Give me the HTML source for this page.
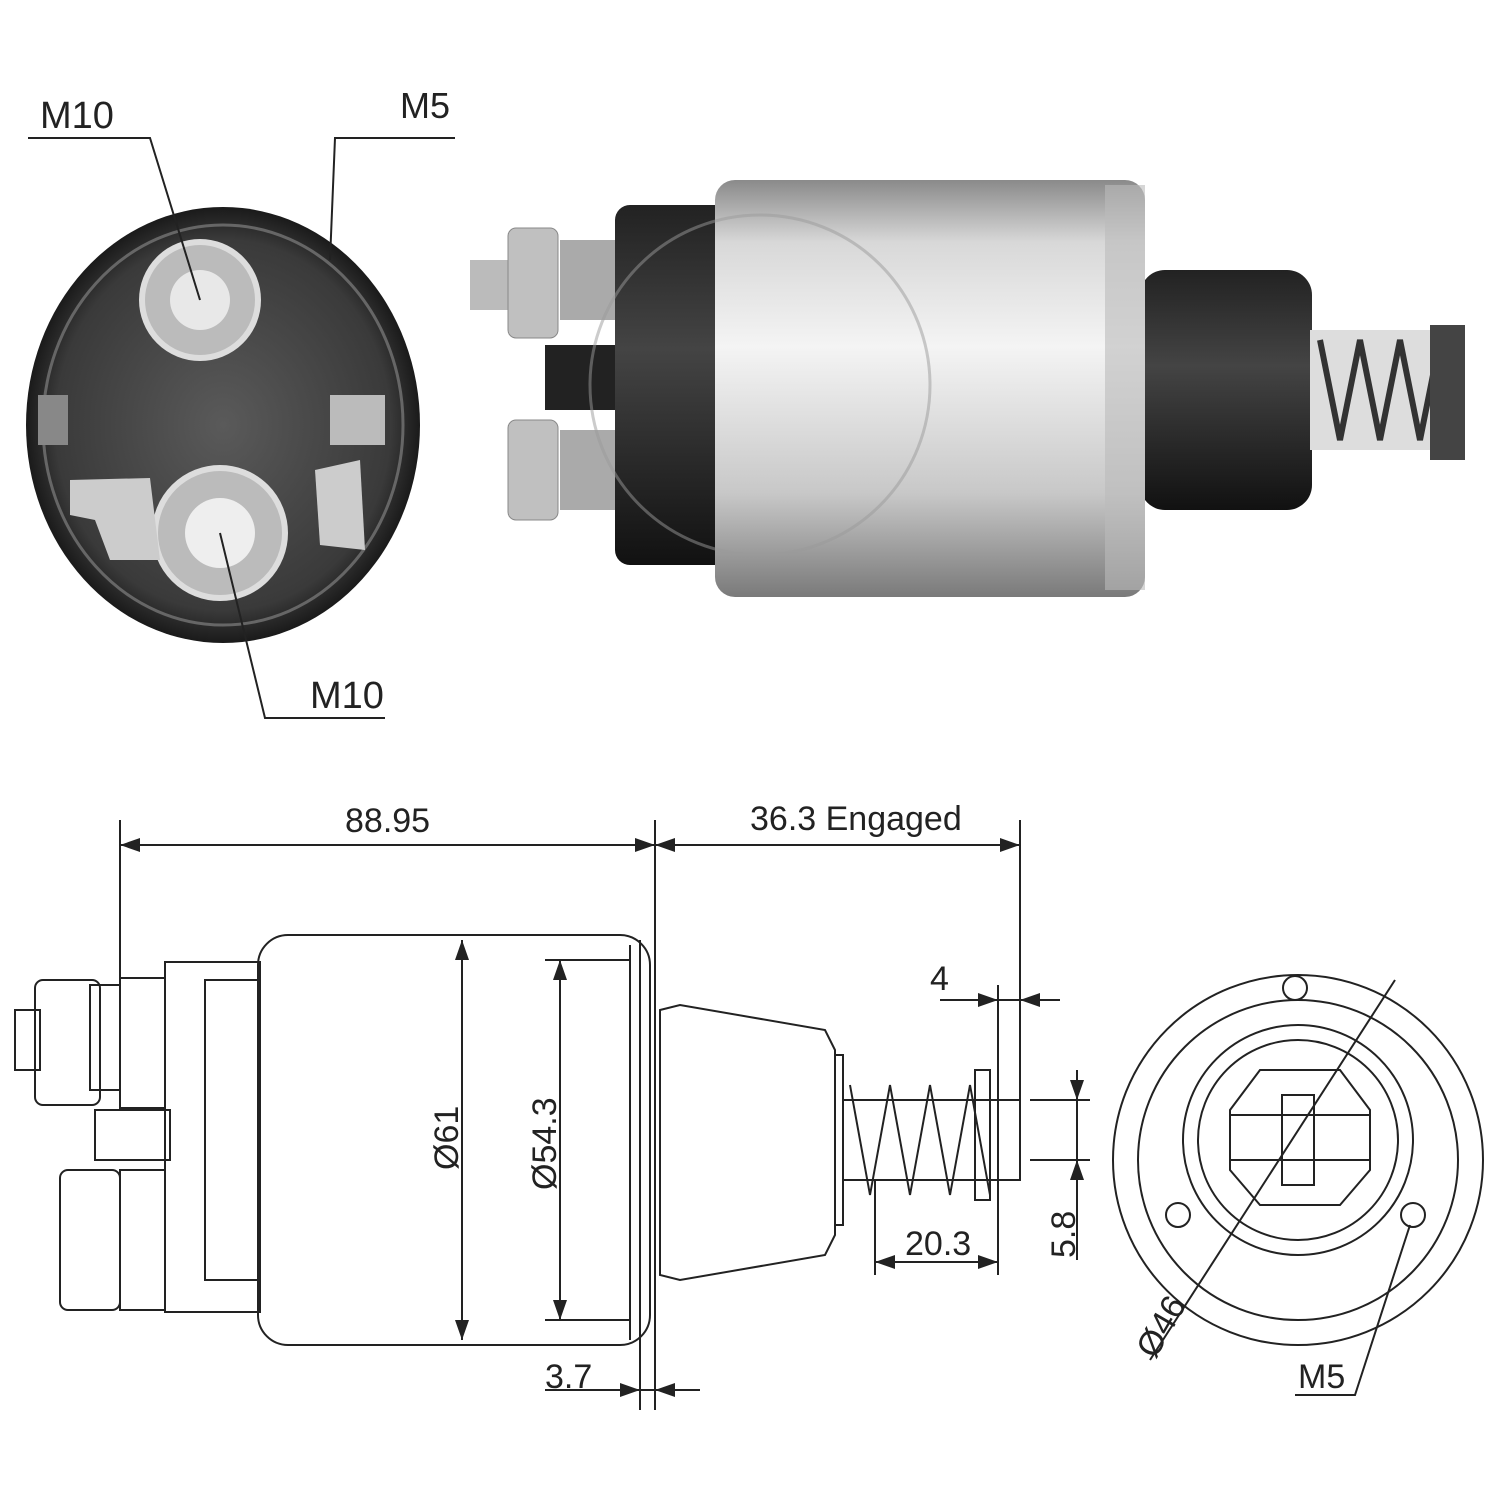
<!DOCTYPE html>
<html><head><style>body{margin:0;background:#fff}svg{display:block}text{font-family:"Liberation Sans",sans-serif;fill:#222}</style></head>
<body>
<svg width="1500" height="1500" viewBox="0 0 1500 1500" xmlns="http://www.w3.org/2000/svg">
<defs>
<linearGradient id="silver" x1="0" y1="0" x2="0" y2="1">
<stop offset="0" stop-color="#8a8a8a"/><stop offset="0.15" stop-color="#d8d8d8"/><stop offset="0.4" stop-color="#f4f4f4"/><stop offset="0.75" stop-color="#c8c8c8"/><stop offset="1" stop-color="#7a7a7a"/></linearGradient>
<radialGradient id="endg" cx="0.5" cy="0.5" r="0.5"><stop offset="0" stop-color="#5a5a5a"/><stop offset="0.85" stop-color="#3a3a3a"/><stop offset="1" stop-color="#1a1a1a"/></radialGradient>
<linearGradient id="blk" x1="0" y1="0" x2="0" y2="1"><stop offset="0" stop-color="#222"/><stop offset="0.4" stop-color="#444"/><stop offset="1" stop-color="#111"/></linearGradient>
</defs>
<!-- top-left end view -->
<ellipse cx="223" cy="425" rx="197" ry="218" fill="url(#endg)"/>
<ellipse cx="223" cy="425" rx="180" ry="200" fill="none" stroke="#666" stroke-width="3"/>
<circle cx="200" cy="300" r="58" fill="#bbb" stroke="#ddd" stroke-width="6"/>
<circle cx="200" cy="300" r="30" fill="#e8e8e8"/>
<circle cx="220" cy="533" r="65" fill="#bbb" stroke="#ddd" stroke-width="6"/>
<circle cx="220" cy="533" r="35" fill="#eee"/>
<polygon points="70,480 150,478 160,560 110,560 95,520 70,515" fill="#ccc"/>
<polygon points="315,470 360,460 365,550 320,545" fill="#ccc"/>
<rect x="330" y="395" width="55" height="50" fill="#bbb"/>
<rect x="38" y="395" width="30" height="50" fill="#888"/>
<g stroke="#222" stroke-width="2" fill="none">
<path d="M28,138 H150 L200,300"/>
<path d="M455,138 H335 L330,260"/>
<path d="M385,718 H265 L220,533"/>
</g>
<text x="40" y="128" font-size="38">M10</text>
<text x="400" y="118" font-size="36">M5</text>
<text x="310" y="708" font-size="38">M10</text>
<!-- top-right photo -->
<rect x="470" y="260" width="40" height="50" fill="#bbb"/>
<rect x="508" y="228" width="50" height="110" rx="8" fill="#c0c0c0" stroke="#888"/>
<rect x="560" y="240" width="60" height="80" fill="#aaa"/>
<rect x="545" y="345" width="70" height="65" fill="#222"/>
<rect x="508" y="420" width="50" height="100" rx="8" fill="#c0c0c0" stroke="#888"/>
<rect x="560" y="430" width="60" height="80" fill="#aaa"/>
<rect x="615" y="205" width="120" height="360" rx="15" fill="url(#blk)"/>
<rect x="1140" y="270" width="172" height="240" rx="25" fill="url(#blk)"/>
<rect x="715" y="180" width="430" height="417" rx="20" fill="url(#silver)"/>
<rect x="1105" y="185" width="40" height="405" fill="#bbb" opacity="0.6"/>
<rect x="1310" y="330" width="140" height="120" fill="#ddd"/>
<path d="M1320,340 l20,100 l20,-100 l20,100 l20,-100 l20,100 l20,-100" stroke="#333" stroke-width="6" fill="none"/>
<rect x="1430" y="325" width="35" height="135" fill="#444"/>
<circle cx="760" cy="385" r="170" fill="none" stroke="#999" stroke-width="3" opacity="0.5"/>
<!-- bottom drawing -->
<g stroke="#222" stroke-width="2" fill="none">
<line x1="120" y1="820" x2="120" y2="990"/>
<line x1="655" y1="820" x2="655" y2="1410"/>
<line x1="1020" y1="820" x2="1020" y2="1100"/>
<line x1="120" y1="845" x2="1020" y2="845"/>
<rect x="258" y="935" width="392" height="410" rx="30"/>
<line x1="630" y1="945" x2="630" y2="1340"/>
<line x1="640" y1="940" x2="640" y2="1410"/>
<rect x="165" y="962" width="95" height="350"/>
<rect x="205" y="980" width="55" height="300"/>
<rect x="35" y="980" width="65" height="125" rx="8"/>
<rect x="15" y="1010" width="25" height="60"/>
<rect x="120" y="978" width="45" height="130"/>
<rect x="90" y="985" width="30" height="105"/>
<rect x="95" y="1110" width="75" height="50"/>
<rect x="60" y="1170" width="60" height="140" rx="8"/>
<rect x="120" y="1170" width="45" height="140"/>
<line x1="462" y1="940" x2="462" y2="1340"/>
<line x1="560" y1="960" x2="560" y2="1320"/>
<line x1="545" y1="960" x2="630" y2="960"/>
<line x1="545" y1="1320" x2="630" y2="1320"/>
<path d="M660,1010 L680,1005 L825,1030 L835,1050 V1235 L825,1255 L680,1280 L660,1275 Z"/>
<rect x="835" y="1055" width="8" height="170"/>
<path d="M843,1100 H1020 V1180 H843"/>
<path d="M850,1085 l20,110 l20,-110 l20,110 l20,-110 l20,110 l20,-110 l20,110" />
<rect x="975" y="1070" width="15" height="130"/>
<line x1="875" y1="1180" x2="875" y2="1275"/>
<line x1="998" y1="985" x2="998" y2="1275"/>
<line x1="875" y1="1262" x2="998" y2="1262"/>
<line x1="940" y1="1000" x2="1060" y2="1000"/>
<line x1="1030" y1="1100" x2="1090" y2="1100"/>
<line x1="1030" y1="1160" x2="1090" y2="1160"/>
<line x1="1077" y1="1070" x2="1077" y2="1260"/>
<line x1="545" y1="1390" x2="700" y2="1390"/>
<circle cx="1298" cy="1160" r="185"/>
<circle cx="1298" cy="1160" r="160"/>
<circle cx="1298" cy="1140" r="115"/>
<circle cx="1298" cy="1140" r="100"/>
<polygon points="1260,1070 1340,1070 1370,1110 1370,1170 1340,1205 1260,1205 1230,1170 1230,1110"/>
<rect x="1230" y="1115" width="140" height="45"/>
<rect x="1282" y="1095" width="32" height="90"/>
<circle cx="1295" cy="988" r="12"/>
<circle cx="1178" cy="1215" r="12"/>
<circle cx="1413" cy="1215" r="12"/>
<line x1="1395" y1="980" x2="1150" y2="1360"/>
<path d="M1410,1225 L1355,1395 H1295"/>
</g>
<g fill="#222">
<polygon points="120,845 140,838 140,852"/><polygon points="655,845 635,838 635,852"/>
<polygon points="655,845 675,838 675,852"/><polygon points="1020,845 1000,838 1000,852"/>
<polygon points="462,940 455,960 469,960"/><polygon points="462,1340 455,1320 469,1320"/>
<polygon points="560,960 553,980 567,980"/><polygon points="560,1320 553,1300 567,1300"/>
<polygon points="998,1000 978,993 978,1007"/><polygon points="1020,1000 1040,993 1040,1007"/>
<polygon points="875,1262 895,1255 895,1269"/><polygon points="998,1262 978,1255 978,1269"/>
<polygon points="1077,1100 1070,1080 1084,1080"/><polygon points="1077,1160 1070,1180 1084,1180"/>
<polygon points="640,1390 620,1383 620,1397"/><polygon points="655,1390 675,1383 675,1397"/>
</g>
<text x="345" y="832" font-size="34">88.95</text>
<text x="750" y="830" font-size="34">36.3 Engaged</text>
<text x="930" y="990" font-size="34">4</text>
<text x="905" y="1255" font-size="34">20.3</text>
<text x="545" y="1388" font-size="34">3.7</text>
<text x="1298" y="1388" font-size="34">M5</text>
<text font-size="34" transform="translate(458,1170) rotate(-90)">Ø61</text>
<text font-size="34" transform="translate(556,1190) rotate(-90)">Ø54.3</text>
<text font-size="34" transform="translate(1075,1258) rotate(-90)">5.8</text>
<text font-size="34" transform="translate(1155,1360) rotate(-60)">Ø46</text>
</svg>
</body></html>
